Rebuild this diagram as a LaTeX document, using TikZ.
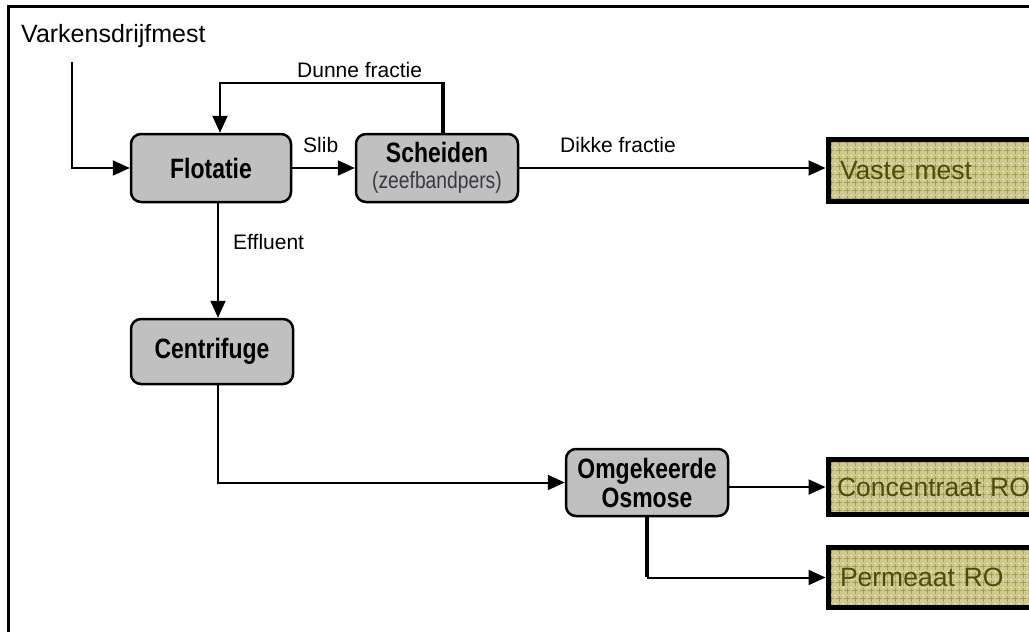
\documentclass[tikz,border=0pt]{standalone}
\usepackage{fontspec}
\setmainfont{Liberation Sans}
\usepackage{graphicx}
\usetikzlibrary{arrows.meta,calc}

\definecolor{procfill}{RGB}{192,192,192}
\definecolor{outfill}{RGB}{205,201,145}
\definecolor{outgrid}{RGB}{150,148,60}
\definecolor{outtext}{RGB}{78,76,10}
\definecolor{subtext}{RGB}{60,56,66}

% narrow (condensed) faces built from Liberation Sans
\newcommand\nbf[1]{\scalebox{0.82}[1]{\bfseries #1}}
\newcommand\nrm[1]{\scalebox{0.82}[1]{#1}}

\begin{document}
\begin{tikzpicture}[x=1pt,y=-1pt,
  proc/.style={draw=black, line width=2.5pt, fill=procfill, rounded corners=10pt,
    inner sep=0pt, align=center, font=\fontsize{28}{29}\selectfont},
  conn/.style={line width=2pt},
  thickconn/.style={line width=3.5pt},
  arr/.style={conn, -{Triangle[length=17pt,width=15pt]}},
  lbl/.style={font=\fontsize{21}{24}\selectfont, inner sep=0pt, anchor=base west},
  outbox/.style={draw=black, line width=5pt, fill=outfill, anchor=west,
    inner xsep=12pt, inner ysep=0pt, text width=200pt, align=left,
    font=\fontsize{26.5}{30}\selectfont, text=outtext,
    path picture={
      \foreach \i in {0,...,30}{
        \draw[outgrid, opacity=0.75, line width=0.8pt, dash pattern=on 6pt off 2pt]
          ($(path picture bounding box.north west)+(\i*8+3,0)$) -- ++(0,90);
        \draw[outgrid, opacity=0.75, line width=0.8pt, dash pattern=on 6pt off 2pt]
          ($(path picture bounding box.north west)+(0,\i*8+3)$) -- ++(260,0);
      }
      \foreach \i in {0,...,30}{
        \foreach \j in {0,...,9}{
          \fill[white] ($(path picture bounding box.north west)+(\i*8-1,\j*8-1)$) rectangle ++(1.3,1.3);
        }
      }
    }}]

\useasboundingbox (0,0) rectangle (1029,632);
\fill[white] (0,0) rectangle (1029,632);

% frame
\draw[line width=3pt] (8.5,640) -- (8.5,6.3) -- (1040,6.3);

% process steps
\node[proc, minimum width=160pt, minimum height=68pt] (flot) at (211,168) {\nbf{Flotatie}};
\node[proc, minimum width=162pt, minimum height=68pt] (sch) at (437,168)
  {\rule{0pt}{6pt}\nbf{Scheiden}\\[-3pt]{\fontsize{23.5}{26}\selectfont\color{subtext}\nrm{(zeefbandpers)}}};
\node[proc, minimum width=162pt, minimum height=65pt] (cent) at (212,351.5) {\nbf{Centrifuge}};
\node[proc, minimum width=162pt, minimum height=67pt] (osm) at (647,482.5)
  {\nbf{Omgekeerde}\\\nbf{Osmose}};

% products
\node[outbox, minimum height=62pt] (vaste) at (825.5,170.5) {Vaste mest};
\node[outbox, minimum height=55pt, inner xsep=9pt] (conc) at (825.5,487) {Concentraat RO};
\node[outbox, minimum height=60pt] (perm) at (825.5,577.5) {Permeaat RO};

% texts
\node[inner sep=0pt, anchor=base west, font=\fontsize{25}{28}\selectfont] (varken) at (21,42) {Varkensdrijfmest};
\node[lbl] (ldunne) at (297,77) {Dunne fractie};
\node[lbl] (lslib) at (303,152) {Slib};
\node[lbl] (ldikke) at (560,152) {Dikke fractie};
\node[lbl] (leff) at (233,249) {Effluent};

% connectors
\coordinate (inTop) at (72,62);
\draw[arr] (inTop) |- (flot.west);

\coordinate (d1) at (443,83);
\coordinate (d2) at (220,83);
\draw[thickconn] (sch.north -| d1) -- ([yshift=1pt]d1);
\draw[arr] (d1) -- (d2) -- (flot.north -| d2);

\draw[arr] (flot.east) -- (sch.west);
\draw[arr] (sch.east) -- (sch.east -| vaste.west);

\coordinate (c1) at (218,0);
\draw[arr] (flot.south -| c1) -- (cent.north -| c1);
\draw[arr] (cent.south -| c1) |- (osm.west);

\draw[arr] (osm.east |- conc.west) -- (conc.west);
\coordinate (p1) at (osm.south |- perm.west);
\draw[thickconn] (osm.south) -- ([yshift=1pt]p1);
\draw[arr] (p1) -- (perm.west);
\end{tikzpicture}
\end{document}
